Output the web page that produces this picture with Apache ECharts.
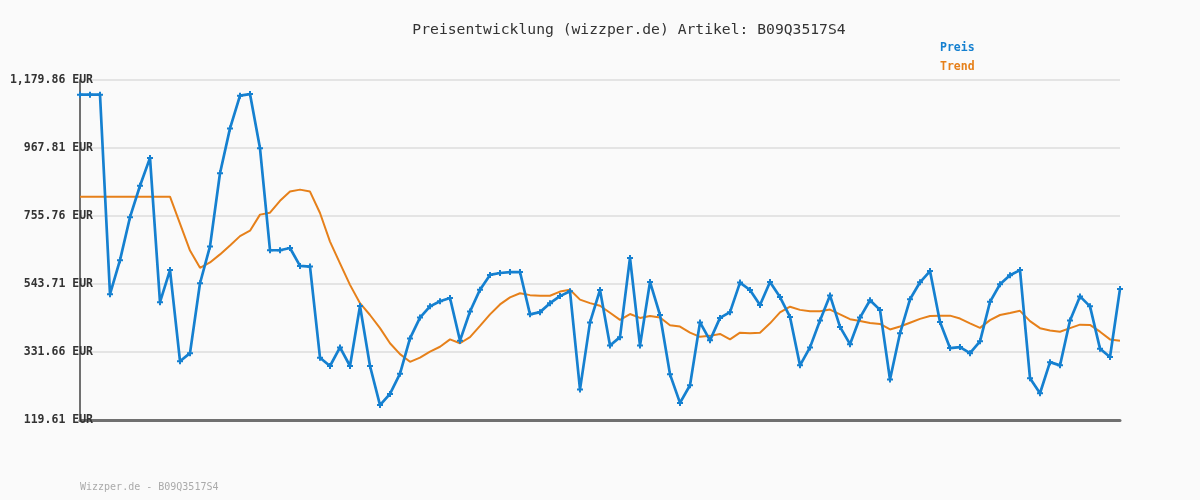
<!DOCTYPE html>
<html>
<head>
<meta charset="utf-8">
<script src="https://cdn.jsdelivr.net/npm/echarts@6/dist/echarts.min.js"></script>
<style>
html,body{margin:0;padding:0;background:#fafafa;}
#c{width:1200px;height:500px;}
</style>
</head>
<body>
<div id="c"></div>
<script>
var titleText = 'Preisentwicklung (wizzper.de) Artikel: B09Q3517S4';
var footerText = 'Wizzper.de - B09Q3517S4';
var seriesNames = ['Preis', 'Trend'];
var yTicks = [119.61, 331.66, 543.71, 755.76, 967.81, 1179.86];

var preis = [
  1134,1134,1134,512,618,752,850,937,487,587,
  303,328,546,661,889,1029,1131,1136,967,649,
  649,656,600,598,314,288,346,288,475,288,
  166,201,264,374,439,474,490,500,367,458,
  526,572,578,581,581,449,456,484,506,521,
  215,424,525,352,378,625,352,550,447,262,
  173,228,424,368,438,456,548,525,478,550,
  503,441,290,346,430,508,410,356,439,493,
  463,246,390,496,549,584,425,344,347,328,
  365,488,543,571,587,250,203,300,290,430,
  505,474,342,316,528
];
var trend = [
  816,816,816,816,816,816,816,816,816,816,
  732,648,594,611,636,664,693,710,760,766,
  803,832,838,832,765,676,608,541,484,447,
  406,359,325,301,314,333,348,371,359,378,
  413,449,480,502,515,509,507,507,520,526,
  495,484,476,454,432,450,438,444,439,415,
  411,392,379,382,388,371,392,390,392,421,
  455,473,463,459,459,464,449,434,428,422,
  419,402,411,423,435,444,445,445,436,421,
  407,431,447,453,460,428,406,399,395,406,
  417,416,395,371,367
];
var categories = preis.map(function(_, i){ return String(i + 1); });

var blue = '#1580d0';
var orange = '#e6801a';
var mono = 'DejaVu Sans Mono';

function fmt(v){
  var s = v.toFixed(2).split('.');
  s[0] = s[0].replace(/\B(?=(\d{3})+(?!\d))/g, ',');
  return s.join('.') + ' EUR';
}

var chart = echarts.init(document.getElementById('c'), null, {renderer:'canvas'});
chart.setOption({
  backgroundColor: '#fafafa',
  animation: false,
  title: {
    text: titleText,
    left: 624, top: 18, textAlign: 'center',
    textStyle: {fontFamily: mono, fontSize: 14.7, fontWeight: 'normal', color: '#333'}
  },
  legend: {
    orient: 'vertical', left: 930, top: 36,
    itemWidth: 0, itemHeight: 14, itemGap: 6, icon: 'none',
    data: [
      {name: seriesNames[0], textStyle: {color: blue}},
      {name: seriesNames[1], textStyle: {color: orange}}
    ],
    textStyle: {fontFamily: mono, fontSize: 11.5, fontWeight: 'bold'}
  },
  graphic: [{
    type: 'text', left: 80, top: 482,
    style: {text: footerText, fill: '#aaa', font: '10px "DejaVu Sans Mono"'}
  }],
  grid: {left: 80, right: 80, top: 80, bottom: 80, containLabel: false},
  xAxis: {
    type: 'category', data: categories, boundaryGap: false,
    axisLine: {lineStyle: {color: '#707070', width: 3}},
    axisTick: {show: false}, axisLabel: {show: false}, splitLine: {show: false}
  },
  yAxis: {
    type: 'value', min: yTicks[0], max: yTicks[yTicks.length-1], interval: yTicks[1]-yTicks[0],
    axisLine: {show: true, lineStyle: {color: '#707070', width: 2}},
    axisTick: {show: false},
    axisLabel: {
      margin: -13, fontFamily: mono, fontSize: 11.5, fontWeight: 'bold', color: '#333',
      showMinLabel: true, showMaxLabel: true,
      formatter: function(v){ return fmt(v); }
    },
    splitLine: {lineStyle: {color: '#e4e4e4', width: 2}}
  },
  series: [
    {
      name: seriesNames[1], type: 'line', data: trend, z: 2,
      showSymbol: false, symbol: 'none',
      lineStyle: {color: orange, width: 2}, itemStyle: {color: orange}
    },
    {
      name: seriesNames[0], type: 'line', data: preis, z: 3,
      symbol: 'path://M2,0H4V2H6V4H4V6H2V4H0V2H2Z', symbolSize: 6, showAllSymbol: true,
      lineStyle: {color: blue, width: 2.7}, itemStyle: {color: blue}
    }
  ]
});
</script>
</body>
</html>
